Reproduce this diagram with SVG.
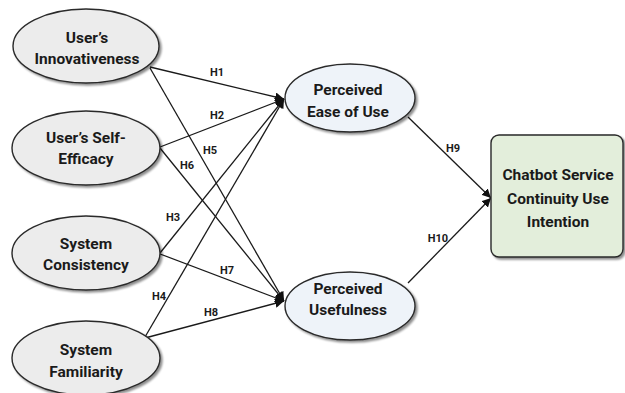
<svg xmlns="http://www.w3.org/2000/svg" width="625" height="393" viewBox="0 0 625 393">
<defs>
<marker id="ah" viewBox="0 0 10 10" refX="10" refY="5" markerWidth="9" markerHeight="9" markerUnits="userSpaceOnUse" orient="auto">
<path d="M0,0 L10,5 L0,10 z" fill="#111"/>
</marker>
<filter id="sh" x="-10%" y="-10%" width="130%" height="130%">
<feGaussianBlur in="SourceAlpha" stdDeviation="1.2"/>
<feOffset dx="1.5" dy="1.5" result="b"/>
<feComponentTransfer><feFuncA type="linear" slope="0.45"/></feComponentTransfer>
<feMerge><feMergeNode/><feMergeNode in="SourceGraphic"/></feMerge>
</filter>
</defs>
<style>
.in{fill:#ececec;stroke:#2a2a2a;stroke-width:1.4}
.me{fill:#eef3f9;stroke:#2a2a2a;stroke-width:1.4}
.out{fill:#e3eedb;stroke:#2a2a2a;stroke-width:1.4}
.t{font-family:Roboto,"Liberation Sans",sans-serif;font-weight:bold;font-size:15.5px;fill:#1a1a1a;text-anchor:middle}
.l{font-family:Roboto,"Liberation Sans",sans-serif;font-weight:bold;font-size:11px;fill:#1a1a1a;text-anchor:middle}
.c{stroke:#1a1a1a;stroke-width:1.3;fill:none;marker-end:url(#ah)}
</style>
<rect width="625" height="393" fill="#fff"/>
<g id="connectors">
<line class="c" x1="150" y1="67" x2="284" y2="99"/>
<line class="c" x1="160" y1="147" x2="284" y2="99"/>
<line class="c" x1="160" y1="253" x2="284" y2="99"/>
<line class="c" x1="145" y1="337" x2="284" y2="99"/>
<line class="c" x1="150" y1="68" x2="284" y2="301"/>
<line class="c" x1="160" y1="148" x2="284" y2="301"/>
<line class="c" x1="160" y1="254" x2="284" y2="301"/>
<line class="c" x1="145" y1="338" x2="284" y2="301"/>
<line class="c" x1="408" y1="117" x2="491" y2="198"/>
<line class="c" x1="408" y1="283" x2="491" y2="198"/>
<text class="l" x="217" y="76">H1</text>
<text class="l" x="217" y="119">H2</text>
<text class="l" x="173" y="221">H3</text>
<text class="l" x="159" y="300">H4</text>
<text class="l" x="210" y="154">H5</text>
<text class="l" x="187" y="169">H6</text>
<text class="l" x="227" y="274">H7</text>
<text class="l" x="211" y="316">H8</text>
<text class="l" x="453" y="152">H9</text>
<text class="l" x="438" y="242">H10</text>
</g>
<g id="innovativeness">
<ellipse class="in" filter="url(#sh)" cx="86" cy="46" rx="73" ry="37"/>
<text class="t" x="87" y="43">User’s</text>
<text class="t" x="87" y="64">Innovativeness</text>
</g>
<g id="self-efficacy">
<ellipse class="in" filter="url(#sh)" cx="86" cy="148" rx="74" ry="37"/>
<text class="t" x="86" y="143">User’s Self-</text>
<text class="t" x="86" y="164">Efficacy</text>
</g>
<g id="consistency">
<ellipse class="in" filter="url(#sh)" cx="86" cy="253" rx="74" ry="37"/>
<text class="t" x="86" y="249">System</text>
<text class="t" x="86" y="270">Consistency</text>
</g>
<g id="familiarity">
<ellipse class="in" filter="url(#sh)" cx="86" cy="358" rx="74" ry="37"/>
<text class="t" x="86" y="355">System</text>
<text class="t" x="86" y="377">Familiarity</text>
</g>
<g id="ease-of-use">
<ellipse class="me" filter="url(#sh)" cx="350" cy="98" rx="65" ry="34"/>
<text class="t" x="348" y="95">Perceived</text>
<text class="t" x="348" y="117">Ease of Use</text>
</g>
<g id="usefulness">
<ellipse class="me" filter="url(#sh)" cx="350" cy="306" rx="65" ry="34"/>
<text class="t" x="348" y="294">Perceived</text>
<text class="t" x="348" y="315">Usefulness</text>
</g>
<g id="intention">
<rect class="out" filter="url(#sh)" x="491" y="135" width="132" height="122" rx="8" ry="8"/>
<text class="t" x="558" y="180">Chatbot Service</text>
<text class="t" x="558" y="204">Continuity Use</text>
<text class="t" x="558" y="227">Intention</text>
</g>
</svg>
